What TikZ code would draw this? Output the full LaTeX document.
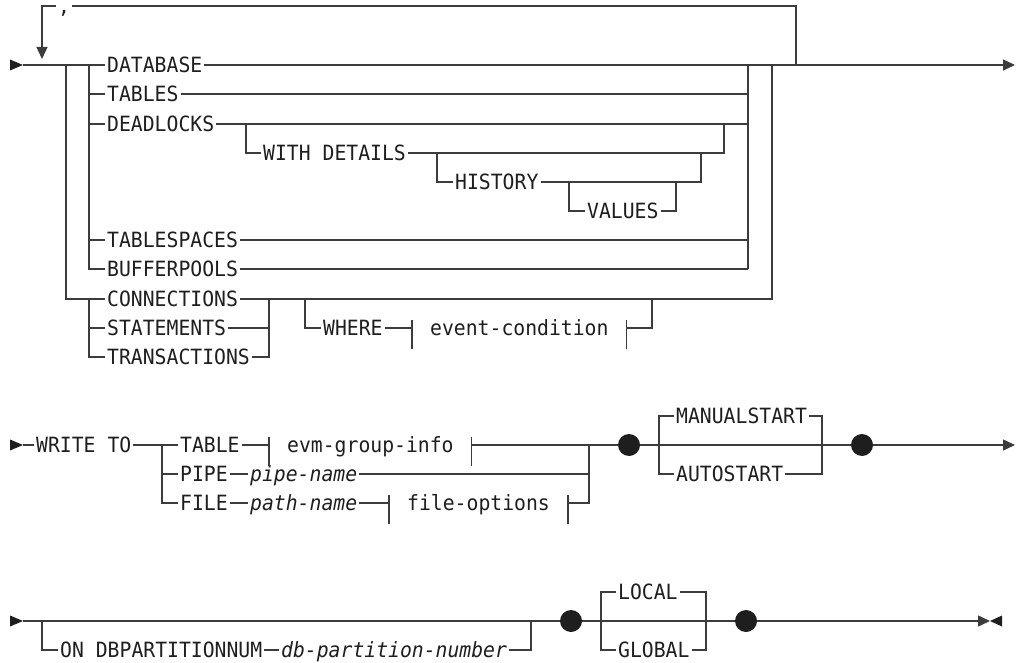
\documentclass[tikz,border=0pt]{standalone}
\usepackage{fontspec}
\usepackage{xcolor}
\usepackage{tikz}
\usetikzlibrary{arrows.meta}
\newfontfamily\rrfont{DejaVu Sans Mono}[ItalicFont={DejaVu Sans Mono Oblique},FakeStretch=0.94]
\definecolor{rule}{RGB}{60,60,60}
\definecolor{ink}{RGB}{30,30,30}
\newcommand{\fragbars}[1]{\draw[rail] ([yshift=8pt]#1.west) -- ([yshift=-21pt]#1.west)
  ([yshift=8pt]#1.east) -- ([yshift=-21pt]#1.east);}

\begin{document}
\begin{tikzpicture}[x=1pt,y=-1pt,
 kw/.style={font={\rrfont\fontsize{21}{24}\selectfont},text=ink,anchor=west,inner xsep=2pt,inner ysep=0pt,text height=15.3pt,text depth=0pt},
 var/.style={kw,font={\rrfont\itshape\fontsize{21}{24}\selectfont}},
 frag/.style={kw,inner xsep=18pt},
 sep/.style={kw,anchor=base west,text height=5pt,text depth=4pt},
 rail/.style={draw=rule,line width=1.4pt},
 dot/.style={circle,fill=ink,inner sep=0pt,minimum size=22pt},
 pointer/.style={fill=ink},
 tipend/.style={-{Triangle[length=12pt,width=11pt]}}]
 \useasboundingbox (0,0) rectangle (1017,663);
 % first line: events
 \node[sep](cm) at (56,13.6){,};
 \node[kw](db) at (105,65){DATABASE};
 \node[kw](tb) at (105,94){TABLES};
 \node[kw](dl) at (105,124){DEADLOCKS};
 \node[kw](wd) at (261,153){WITH DETAILS};
 \node[kw](hi) at (453,182){HISTORY};
 \node[kw](va) at (585,211){VALUES};
 \node[kw](ts) at (105,240){TABLESPACES};
 \node[kw](bp) at (105,269){BUFFERPOOLS};
 \node[kw](cn) at (105,299){CONNECTIONS};
 \node[kw](st) at (105,328){STATEMENTS};
 \node[kw](tr) at (105,357){TRANSACTIONS};
 \node[kw](wh) at (321,328){WHERE};
 \node[frag](ec) at (412,328){event-condition};
 \coordinate (s1) at (23,65); \coordinate (e1) at (1015,65);
 \coordinate (lp) at (42,59); \coordinate (tp) at (796,6);
 \coordinate (oL) at (66,65); \coordinate (iL) at (89,65);
 \coordinate (iR) at (748,65); \coordinate (oR) at (772,65); \coordinate (lR) at (796,65);
 \coordinate (jw) at (246,124); \coordinate (jwr) at (724,124);
 \coordinate (jh) at (437,153); \coordinate (jhr) at (701,153);
 \coordinate (jv) at (569,182); \coordinate (jvr) at (676,182);
 \coordinate (gR) at (269,299);
 \coordinate (jwh) at (305,299); \coordinate (jwhr) at (652,299);
 \fill[pointer] (10,59.5) -- (s1) -- (10,70.5) -- cycle;
 \draw[rail](s1)--(db);
 \draw[rail,tipend](db)--(e1);
 \draw[rail](lR)--(tp)--(tp-|cm.east);
 \draw[rail,tipend](tp-|cm.west)-|(lp);
 \draw[rail](oL)|-(cn.west);
 \draw[rail](iL)|-(bp.west);
 \foreach \n in {tb,dl,ts} \draw[rail](iL|-\n.west)--(\n.west);
 \foreach \n in {tb,dl,ts,bp} \draw[rail](\n.east)--(iR|-\n.east);
 \draw[rail](iR)--(iR|-bp.east);
 \draw[rail](jw)|-(wd.west);
 \draw[rail](wd.east)-|(jwr);
 \draw[rail](jh)|-(hi.west);
 \draw[rail](hi.east)-|(jhr);
 \draw[rail](jv)|-(va.west);
 \draw[rail](va.east)-|(jvr);
 \draw[rail](cn.east)-|(oR);
 \draw[rail](iL|-cn.west)|-(tr.west);
 \draw[rail](iL|-st.west)--(st.west);
 \draw[rail](st.east)--(gR|-st.east);
 \draw[rail](tr.east)-|(gR);
 \draw[rail](jwh)|-(wh.west);
 \draw[rail](wh)--(ec);
 \draw[rail](ec.east)-|(jwhr);
 \fragbars{ec}
 % second line: target
 \node[kw](wt) at (34,445){WRITE TO};
 \node[kw](tl) at (178,445){TABLE};
 \node[frag](eg) at (269,445){evm-group-info};
 \node[kw](pp) at (178,474){PIPE};
 \node[var](pn) at (248,474){pipe-name};
 \node[kw](fl) at (178,503){FILE};
 \node[var](pa) at (248,503){path-name};
 \node[frag](fo) at (389,503){file-options};
 \node[dot](d1) at (629,445){};
 \node[kw](ms) at (674,416){MANUALSTART};
 \node[kw](as) at (674,474){AUTOSTART};
 \node[dot](d2) at (862,445){};
 \coordinate (s2) at (23,445); \coordinate (e2) at (1015,445);
 \coordinate (wL) at (162,445); \coordinate (wR) at (589,445);
 \coordinate (mL) at (659,445); \coordinate (mR) at (822,445);
 \fill[pointer] (10,439.5) -- (s2) -- (10,450.5) -- cycle;
 \draw[rail](s2)--(wt);
 \draw[rail](wt)--(tl);
 \draw[rail](wL)|-(fl.west);
 \draw[rail](wL|-pp.west)--(pp.west);
 \draw[rail](tl)--(eg);
 \draw[rail](eg)--(d1);
 \draw[rail](pp)--(pn);
 \draw[rail](pn.east)-|(wR);
 \draw[rail](fl)--(pa);
 \draw[rail](pa)--(fo);
 \draw[rail](fo.east)-|(wR);
 \fragbars{eg}
 \fragbars{fo}
 \draw[rail](d1)--(d2);
 \draw[rail](ms.west)-|(mL|-as.west)--(as.west);
 \draw[rail](ms.east)-|(mR|-as.east)--(as.east);
 \draw[rail,tipend](d2)--(e2);
 % third line: partition and scope
 \node[kw](on) at (58,650){ON DBPARTITIONNUM};
 \node[var](pn3) at (279,650){db-partition-number};
 \node[dot](d3) at (571,621){};
 \node[kw](lc) at (616,592){LOCAL};
 \node[kw](gl) at (616,650){GLOBAL};
 \node[dot](d4) at (746,621){};
 \coordinate (s3) at (23,621); \coordinate (e3) at (990,621);
 \coordinate (pL) at (42,621); \coordinate (pR) at (531,621);
 \coordinate (cL) at (601,621); \coordinate (cR) at (706,621);
 \fill[pointer] (10,615.5) -- (s3) -- (10,626.5) -- cycle;
 \draw[rail](s3)--(d3);
 \draw[rail](pL)|-(on.west);
 \draw[rail](on)--(pn3);
 \draw[rail](pn3.east)-|(pR);
 \draw[rail](d3)--(d4);
 \draw[rail](lc.west)-|(cL|-gl.west)--(gl.west);
 \draw[rail](lc.east)-|(cR|-gl.east)--(gl.east);
 \draw[rail,tipend](d4)--(e3);
 \fill[pointer] (1002,615.5) -- (e3) -- (1002,626.5) -- cycle;
\end{tikzpicture}
\end{document}
